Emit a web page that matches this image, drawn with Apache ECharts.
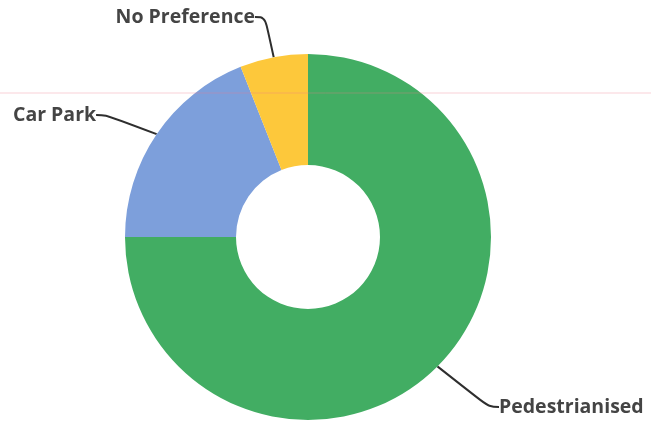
<!DOCTYPE html>
<html>
<head>
<meta charset="utf-8">
<style>html,body{margin:0;padding:0;background:#fff;}#c{width:651px;height:426px;}</style>
<script src="https://cdn.jsdelivr.net/npm/echarts@6/dist/echarts.min.js"></script>
</head>
<body>
<div id="c"></div>
<script>
const categories = ['Pedestrianised', 'Car Park', 'No Preference'];
const values = [75, 19, 6];
const colors = ['#42ad63', '#7d9fdb', '#fdc83b'];

const chart = echarts.init(document.getElementById('c'));
const labelCfg = [
  {x: 499, y: 407, align: 'left', len: 45},
  {x: 13, y: 115, align: 'left', len: 40},
  {x: 255, y: 17, align: 'right', len: 45}
];
chart.setOption({
  animation: false,
  backgroundColor: '#ffffff',
  series: [{
    type: 'pie',
    center: [308, 237],
    radius: [72, 183],
    startAngle: 90,
    clockwise: true,
    data: categories.map((c, i) => ({
      name: c, value: values[i], itemStyle: {color: colors[i]},
      labelLine: {length: labelCfg[i].len}
    })),
    label: {
      show: true,
      formatter: '{b}',
      color: '#444444',
      fontFamily: 'Open Sans',
      fontWeight: 'bold',
      fontSize: 19.5,
      overflow: 'none',
      width: 200
    },
    labelLine: {
      show: true,
      smooth: 0.4,
      length2: 10,
      lineStyle: {color: '#2e2e2e', width: 2}
    },
    labelLayout: function (p) {
      const l = labelCfg[p.dataIndex];
      return {x: l.x, y: l.y, align: l.align, verticalAlign: 'middle'};
    },
    emphasis: {disabled: true}
  }],
  graphic: [{
    type: 'line',
    shape: {x1: 0, y1: 93, x2: 651, y2: 93},
    style: {stroke: 'rgba(235,120,140,0.35)', lineWidth: 1},
    z: 100
  }]
});
</script>
</body>
</html>
